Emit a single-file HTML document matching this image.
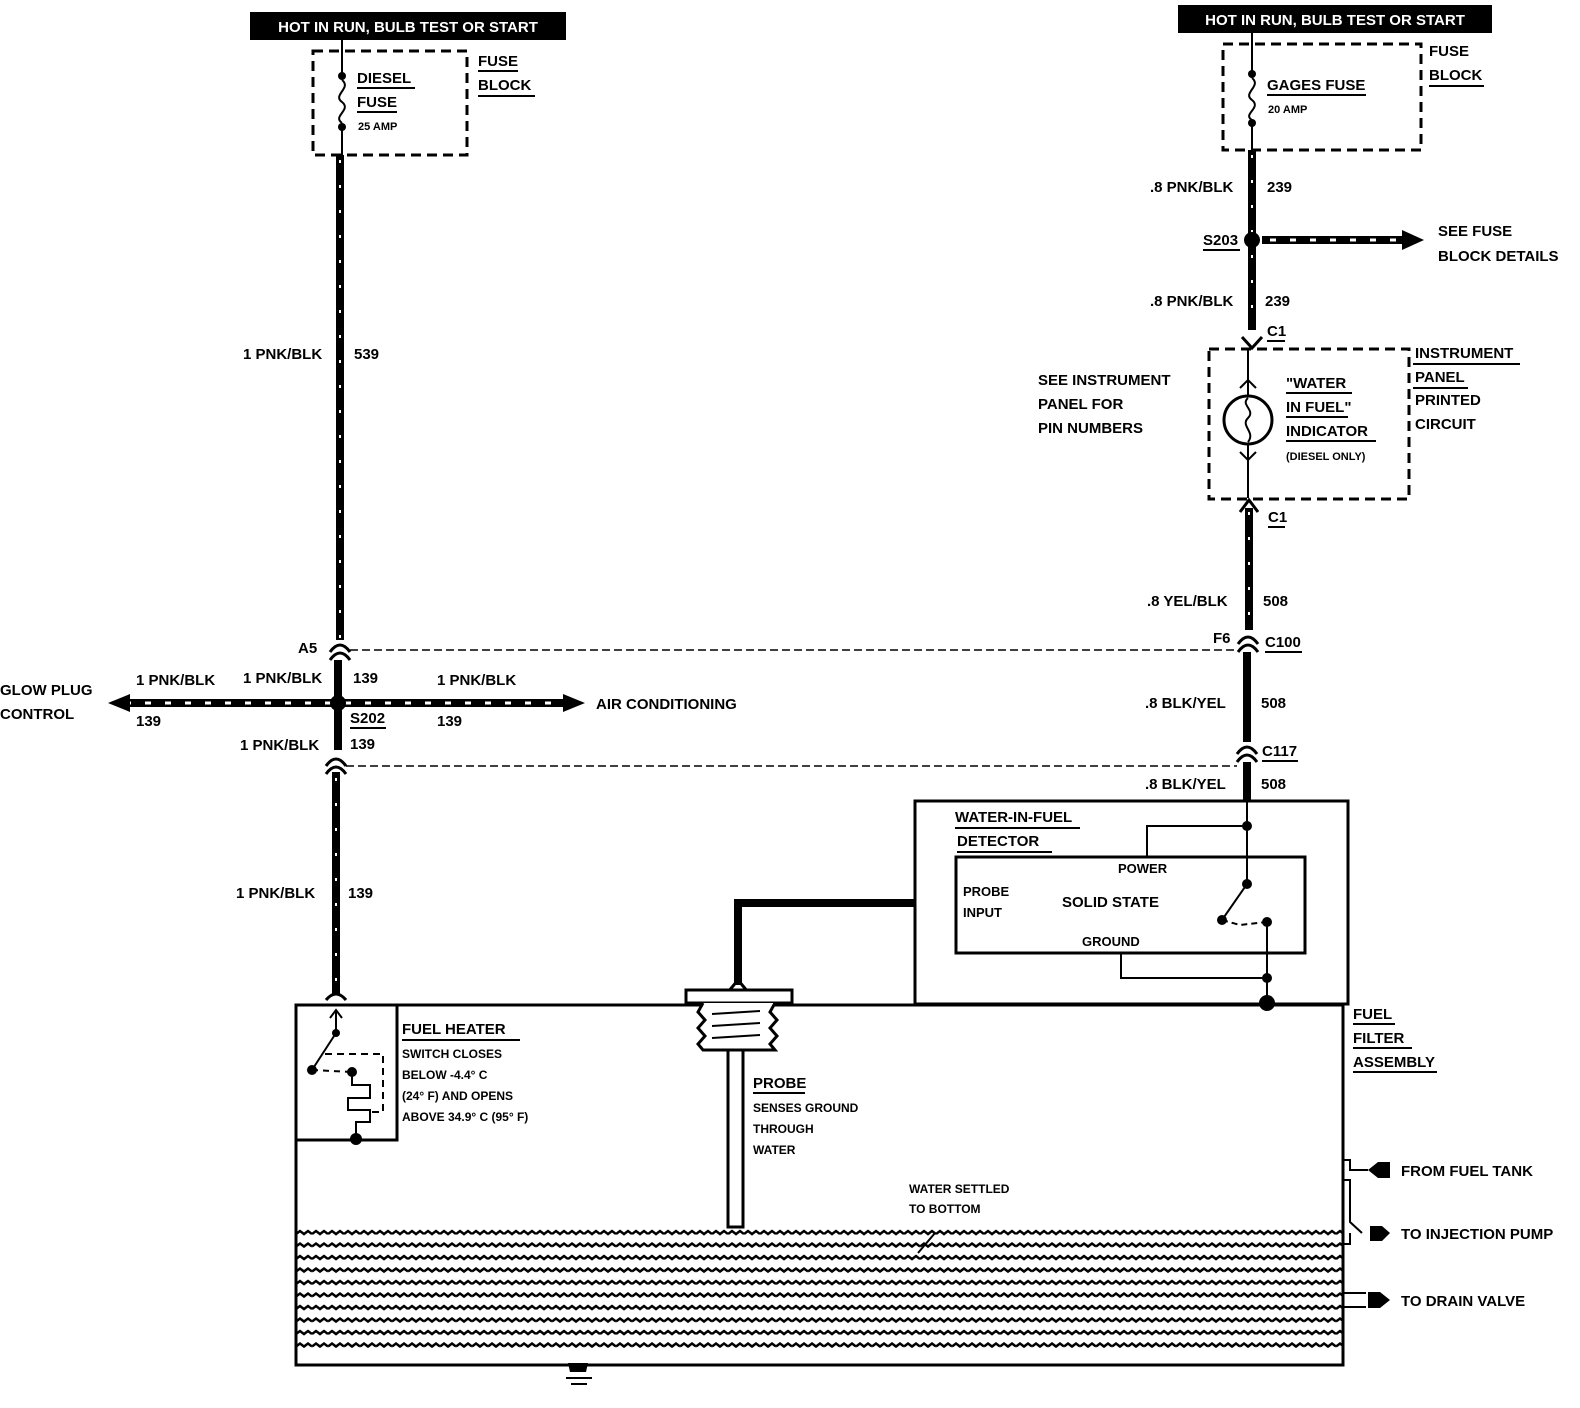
<!DOCTYPE html>
<html><head><meta charset="utf-8"><style>
html,body{margin:0;padding:0;background:#fff}
svg{display:block}
text{font-family:"Liberation Sans",sans-serif;font-weight:bold;fill:#000}
</style></head><body>
<svg width="1580" height="1408" viewBox="0 0 1580 1408" xmlns="http://www.w3.org/2000/svg">
<defs>
<pattern id="wave" x="296" y="1228" width="16" height="12.5" patternUnits="userSpaceOnUse">
<path d="M0 6 L4 3 L8 6 L12 3 L16 6" fill="none" stroke="#000" stroke-width="2.5"/>
</pattern>
</defs>
<g font-size="15">
<!-- headers -->
<rect x="250" y="12" width="316" height="28" fill="#000"/>
<text x="408" y="32" text-anchor="middle" style="fill:#fff" font-size="15">HOT IN RUN, BULB TEST OR START</text>
<rect x="1178" y="5" width="314" height="28" fill="#000"/>
<text x="1335" y="25" text-anchor="middle" style="fill:#fff" font-size="15">HOT IN RUN, BULB TEST OR START</text>

<!-- left fuse -->
<rect x="313" y="51" width="154" height="104" fill="none" stroke="#000" stroke-width="3" stroke-dasharray="10,6"/>
<line x1="342" y1="40" x2="342" y2="76" stroke="#000" stroke-width="2"/>
<circle cx="342" cy="76" r="4"/><circle cx="342" cy="127" r="4"/>
<path d="M342 80 C352 88 332 95 342 102 C352 110 332 116 342 123" fill="none" stroke="#000" stroke-width="2"/>
<line x1="342" y1="127" x2="342" y2="155" stroke="#000" stroke-width="2"/>
<text x="357" y="83">DIESEL</text><line x1="357" y1="88" x2="415" y2="88" stroke="#000" stroke-width="2"/>
<text x="357" y="107">FUSE</text><line x1="357" y1="112" x2="397" y2="112" stroke="#000" stroke-width="2"/>
<text x="358" y="130" font-size="11">25 AMP</text>
<text x="478" y="66">FUSE</text><line x1="478" y1="71" x2="518" y2="71" stroke="#000" stroke-width="2"/>
<text x="478" y="90">BLOCK</text><line x1="478" y1="96" x2="535" y2="96" stroke="#000" stroke-width="2"/>

<!-- right fuse -->
<rect x="1223" y="44" width="198" height="106" fill="none" stroke="#000" stroke-width="3" stroke-dasharray="10,6"/>
<line x1="1252" y1="33" x2="1252" y2="74" stroke="#000" stroke-width="2"/>
<circle cx="1252" cy="74" r="4"/><circle cx="1252" cy="123" r="4"/>
<path d="M1252 78 C1262 86 1242 93 1252 100 C1262 108 1242 114 1252 120" fill="none" stroke="#000" stroke-width="2"/>
<line x1="1252" y1="123" x2="1252" y2="150" stroke="#000" stroke-width="2"/>
<text x="1267" y="90">GAGES FUSE</text><line x1="1267" y1="95" x2="1366" y2="95" stroke="#000" stroke-width="2"/>
<text x="1268" y="113" font-size="11">20 AMP</text>
<text x="1429" y="56">FUSE</text>
<text x="1429" y="80">BLOCK</text><line x1="1429" y1="86" x2="1484" y2="86" stroke="#000" stroke-width="2"/>

<!-- thick wires -->
<g stroke="#000" stroke-width="8" fill="none">
<line x1="340" y1="155" x2="340" y2="640"/>
<line x1="338" y1="660" x2="338" y2="750"/>
<line x1="336" y1="772" x2="336" y2="994"/>
<line x1="120" y1="703" x2="570" y2="703"/>
<line x1="1252" y1="150" x2="1252" y2="330"/>
<line x1="1262" y1="240" x2="1405" y2="240"/>
<line x1="1249" y1="508" x2="1249" y2="630"/>
<line x1="1247" y1="652" x2="1247" y2="742"/>
<line x1="1247" y1="762" x2="1247" y2="800"/>
</g>
<g stroke="#fff" stroke-width="2" fill="none" stroke-dasharray="3,22">
<line x1="340" y1="160" x2="340" y2="640"/>
<line x1="336" y1="778" x2="336" y2="990"/>
<line x1="1252" y1="155" x2="1252" y2="325"/>
<line x1="1249" y1="512" x2="1249" y2="628"/>
</g>
<g stroke="#fff" stroke-width="3" fill="none" stroke-dasharray="6,14">
<line x1="125" y1="703" x2="565" y2="703"/>
<line x1="1270" y1="240" x2="1400" y2="240"/>
</g>
<polygon points="108,703 130,694 130,712"/>
<polygon points="585,703 563,694 563,712"/>
<polygon points="1424,240 1402,230 1402,250"/>
<circle cx="338" cy="703" r="8"/>
<circle cx="1252" cy="240" r="8"/>

<!-- connectors -->
<g stroke="#000" stroke-width="3" fill="none">
<path d="M330 652 Q340 638 350 652"/><path d="M330 660 Q340 646 350 660"/>
<path d="M326 766 Q336 752 346 766"/><path d="M326 774 Q336 760 346 774"/>
<path d="M1238 644 Q1248 630 1258 644"/><path d="M1238 652 Q1248 638 1258 652"/>
<path d="M1237 754 Q1247 740 1257 754"/><path d="M1237 762 Q1247 748 1257 762"/>
<path d="M1242 337 L1252 348 L1262 337"/>
<path d="M1240 512 L1249 500 L1258 512"/>
<path d="M326 1000 Q336 988 346 1000"/>
</g>
<!-- dashed connector lines -->
<g stroke="#000" stroke-width="1.5" stroke-dasharray="8,4">
<line x1="350" y1="650" x2="1238" y2="650"/>
<line x1="346" y1="766" x2="1237" y2="766"/>
</g>

<!-- left labels -->
<text x="243" y="359">1 PNK/BLK</text><text x="354" y="359">539</text>
<text x="298" y="653">A5</text>
<text x="136" y="685">1 PNK/BLK</text><text x="136" y="726">139</text>
<text x="243" y="683">1 PNK/BLK</text><text x="353" y="683">139</text>
<text x="437" y="685">1 PNK/BLK</text><text x="437" y="726">139</text>
<text x="350" y="723">S202</text><line x1="350" y1="728" x2="386" y2="728" stroke="#000" stroke-width="2"/>
<text x="240" y="750">1 PNK/BLK</text><text x="350" y="749">139</text>
<text x="0" y="695">GLOW PLUG</text><text x="0" y="719">CONTROL</text>
<text x="596" y="709">AIR CONDITIONING</text>
<text x="236" y="898">1 PNK/BLK</text><text x="348" y="898">139</text>

<!-- right labels -->
<text x="1150" y="192">.8 PNK/BLK</text><text x="1267" y="192">239</text>
<text x="1203" y="245">S203</text><line x1="1203" y1="250" x2="1240" y2="250" stroke="#000" stroke-width="2"/>
<text x="1438" y="236">SEE FUSE</text><text x="1438" y="261">BLOCK DETAILS</text>
<text x="1150" y="306">.8 PNK/BLK</text><text x="1265" y="306">239</text>
<text x="1267" y="336">C1</text><line x1="1267" y1="341" x2="1285" y2="341" stroke="#000" stroke-width="2"/>
<text x="1038" y="385">SEE INSTRUMENT</text><text x="1038" y="409">PANEL FOR</text><text x="1038" y="433">PIN NUMBERS</text>
<text x="1415" y="358">INSTRUMENT</text><text x="1415" y="382">PANEL</text><text x="1415" y="405">PRINTED</text><text x="1415" y="429">CIRCUIT</text>
<line x1="1413" y1="364" x2="1520" y2="364" stroke="#000" stroke-width="2"/>
<line x1="1413" y1="388" x2="1468" y2="388" stroke="#000" stroke-width="2"/>
<!-- instrument box -->
<rect x="1209" y="349" width="200" height="150" fill="none" stroke="#000" stroke-width="3" stroke-dasharray="10,6"/>
<line x1="1248" y1="350" x2="1248" y2="498" stroke="#000" stroke-width="2"/>
<circle cx="1248" cy="420" r="24" fill="#fff" stroke="#000" stroke-width="3"/>
<path d="M1248 398 C1240 405 1256 410 1248 418 C1240 426 1256 432 1248 442" fill="none" stroke="#000" stroke-width="2"/>
<path d="M1240 388 L1248 380 L1256 388 M1240 452 L1248 460 L1256 452" fill="none" stroke="#000" stroke-width="2"/>
<text x="1286" y="388">"WATER</text><line x1="1286" y1="393" x2="1352" y2="393" stroke="#000" stroke-width="2"/>
<text x="1286" y="412">IN FUEL"</text><line x1="1286" y1="417" x2="1348" y2="417" stroke="#000" stroke-width="2"/>
<text x="1286" y="436">INDICATOR</text><line x1="1286" y1="441" x2="1376" y2="441" stroke="#000" stroke-width="2"/>
<text x="1286" y="460" font-size="11">(DIESEL ONLY)</text>
<text x="1268" y="522">C1</text><line x1="1268" y1="527" x2="1285" y2="527" stroke="#000" stroke-width="2"/>
<text x="1147" y="606">.8 YEL/BLK</text><text x="1263" y="606">508</text>
<text x="1213" y="643">F6</text>
<text x="1265" y="647">C100</text><line x1="1265" y1="652" x2="1302" y2="652" stroke="#000" stroke-width="2"/>
<text x="1145" y="708">.8 BLK/YEL</text><text x="1261" y="708">508</text>
<text x="1262" y="756">C117</text><line x1="1262" y1="761" x2="1298" y2="761" stroke="#000" stroke-width="2"/>
<text x="1145" y="789">.8 BLK/YEL</text><text x="1261" y="789">508</text>

<!-- detector -->
<rect x="915" y="801" width="433" height="203" fill="none" stroke="#000" stroke-width="3"/>
<rect x="956" y="857" width="349" height="96" fill="none" stroke="#000" stroke-width="3"/>
<text x="955" y="822">WATER-IN-FUEL</text><line x1="955" y1="828" x2="1080" y2="828" stroke="#000" stroke-width="2"/>
<text x="957" y="846">DETECTOR</text><line x1="957" y1="852" x2="1052" y2="852" stroke="#000" stroke-width="2"/>
<text x="1118" y="873" font-size="13">POWER</text>
<text x="963" y="896" font-size="13">PROBE</text><text x="963" y="917" font-size="13">INPUT</text>
<text x="1062" y="907" style="font-weight:bold">SOLID STATE</text>
<text x="1082" y="946" font-size="13">GROUND</text>
<g stroke="#000" stroke-width="2" fill="none">
<line x1="1247" y1="800" x2="1247" y2="884"/>
<polyline points="1147,857 1147,826 1247,826"/>
<line x1="1247" y1="884" x2="1222" y2="920"/>
<path d="M1222 920 L1240 925 L1266 922" stroke-dasharray="6,4"/>
<line x1="1267" y1="922" x2="1267" y2="1003"/>
<polyline points="1121,953 1121,978 1267,978"/>
</g>
<circle cx="1247" cy="826" r="5"/><circle cx="1247" cy="884" r="5"/><circle cx="1222" cy="920" r="5"/><circle cx="1267" cy="922" r="5"/><circle cx="1267" cy="978" r="5"/><circle cx="1267" cy="1003" r="8"/>

<!-- probe wire -->
<polyline points="738,985 738,903 915,903" fill="none" stroke="#000" stroke-width="8"/>
<path d="M728 992 L738 980 L748 992" fill="none" stroke="#000" stroke-width="3"/>

<!-- filter box -->
<rect x="296" y="1005" width="1047" height="360" fill="none" stroke="#000" stroke-width="3"/>
<rect x="296" y="1228" width="1047" height="125" fill="url(#wave)"/>
<line x1="296" y1="1365" x2="1343" y2="1365" stroke="#000" stroke-width="3"/>
<polygon points="568,1363 588,1363 586,1372 570,1372"/>
<line x1="566" y1="1378" x2="592" y2="1378" stroke="#000" stroke-width="2"/>
<line x1="571" y1="1384" x2="587" y2="1384" stroke="#000" stroke-width="2"/>
<text x="1353" y="1019">FUEL</text><text x="1353" y="1043">FILTER</text><text x="1353" y="1067">ASSEMBLY</text>
<line x1="1353" y1="1024" x2="1395" y2="1024" stroke="#000" stroke-width="2"/>
<line x1="1353" y1="1048" x2="1412" y2="1048" stroke="#000" stroke-width="2"/>
<line x1="1353" y1="1072" x2="1437" y2="1072" stroke="#000" stroke-width="2"/>

<!-- fuel heater -->
<polyline points="297,1140 397,1140 397,1005" fill="none" stroke="#000" stroke-width="3"/>
<g stroke="#000" stroke-width="2" fill="none">
<line x1="336" y1="1010" x2="336" y2="1033"/>
<path d="M330 1018 L336 1010 L342 1018"/>
<line x1="336" y1="1033" x2="312" y2="1070"/>
<path d="M312 1070 L352 1072" stroke-dasharray="6,5"/>
<path d="M325 1054 L383 1054 L383 1112 L367 1112" stroke-dasharray="7,5"/>
<path d="M352 1072 L352 1085 L370 1085 L370 1098 L348 1098 L348 1110 L370 1110 L370 1122 L356 1122 L356 1138"/>
</g>
<circle cx="336" cy="1033" r="4"/><circle cx="312" cy="1070" r="5"/><circle cx="352" cy="1072" r="5"/><circle cx="356" cy="1139" r="6"/>
<text x="402" y="1034">FUEL HEATER</text><line x1="402" y1="1040" x2="520" y2="1040" stroke="#000" stroke-width="2"/>
<g font-size="12"><text x="402" y="1058">SWITCH CLOSES</text><text x="402" y="1079">BELOW  -4.4° C</text><text x="402" y="1100">(24° F) AND OPENS</text><text x="402" y="1121">ABOVE 34.9° C (95° F)</text></g>

<!-- probe -->
<rect x="686" y="990" width="106" height="13" fill="#fff" stroke="#000" stroke-width="3"/>
<path d="M703 1003 L698 1012 L705 1020 L698 1028 L705 1036 L698 1044 L703 1050 L775 1050 L770 1044 L777 1036 L770 1028 L777 1020 L770 1012 L775 1003" fill="#fff" stroke="#000" stroke-width="3"/>
<g stroke="#000" stroke-width="2"><line x1="712" y1="1014" x2="760" y2="1011"/><line x1="712" y1="1026" x2="760" y2="1023"/><line x1="712" y1="1038" x2="760" y2="1035"/></g>
<rect x="728" y="1050" width="15" height="177" fill="#fff" stroke="#000" stroke-width="3"/>
<text x="753" y="1088">PROBE</text><line x1="753" y1="1093" x2="805" y2="1093" stroke="#000" stroke-width="2"/>
<g font-size="12"><text x="753" y="1112">SENSES GROUND</text><text x="753" y="1133">THROUGH</text><text x="753" y="1154">WATER</text>
<text x="909" y="1193">WATER SETTLED</text><text x="909" y="1213">TO BOTTOM</text></g>
<line x1="935" y1="1233" x2="918" y2="1253" stroke="#000" stroke-width="2"/>

<!-- right ports -->
<g stroke="#000" stroke-width="2" fill="none">
<polyline points="1343,1160 1350,1160 1350,1170 1368,1170"/>
<polyline points="1343,1180 1350,1180 1350,1222 1362,1233"/>
<polyline points="1343,1244 1350,1244 1350,1233"/>
<polyline points="1343,1293 1366,1293"/><polyline points="1343,1307 1366,1307"/>
</g>
<polygon points="1368,1170 1378,1162 1390,1162 1390,1178 1378,1178"/>
<polygon points="1370,1226 1382,1226 1390,1233 1382,1241 1370,1241"/>
<polygon points="1368,1292 1380,1292 1390,1300 1380,1308 1368,1308"/>
<text x="1401" y="1176">FROM FUEL TANK</text>
<text x="1401" y="1239">TO INJECTION PUMP</text>
<text x="1401" y="1306">TO DRAIN VALVE</text>
</g>
</svg>
</body></html>
